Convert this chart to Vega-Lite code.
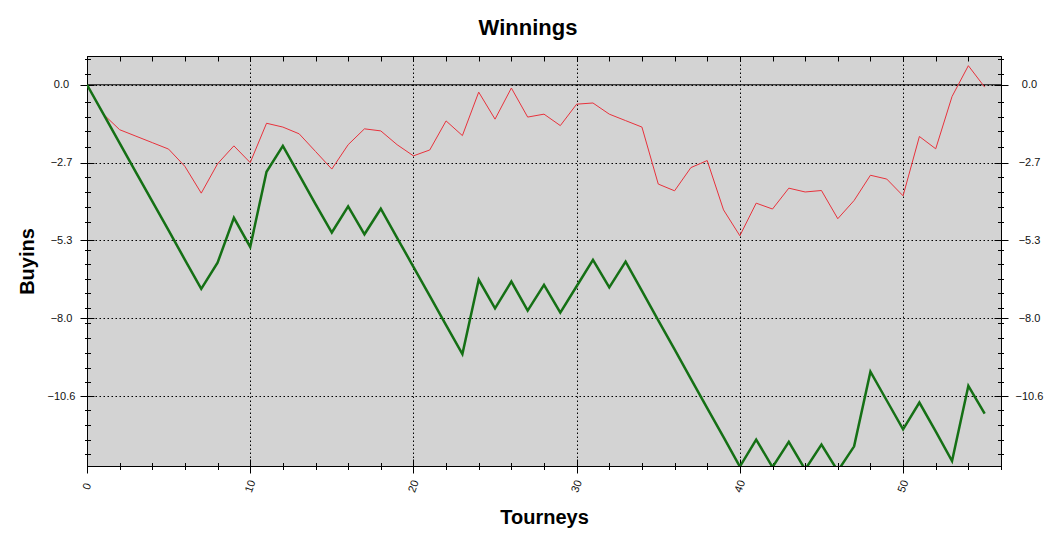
{
  "$schema": "https://vega.github.io/schema/vega-lite/v6.json",
  "description": "Winnings in buyins per tourney: red and green cumulative series.",
  "width": 914,
  "height": 410,
  "autosize": "none",
  "padding": {"left": 87, "top": 56, "right": 56, "bottom": 78},
  "background": "white",
  "title": {
    "text": "Winnings",
    "font": "Liberation Sans",
    "fontSize": 22,
    "fontWeight": "bold",
    "color": "black",
    "anchor": "middle",
    "offset": 16,
    "dx": -16
  },
  "data": {
    "values": [
      {"t": 0, "red": 0, "green": 0},
      {"t": 1, "red": -1.0, "green": -0.99},
      {"t": 2, "red": -1.53, "green": -1.99},
      {"t": 3, "red": -1.75, "green": -2.98},
      {"t": 4, "red": -1.97, "green": -3.97},
      {"t": 5, "red": -2.19, "green": -4.96},
      {"t": 6, "red": -2.78, "green": -5.96},
      {"t": 7, "red": -3.69, "green": -6.95},
      {"t": 8, "red": -2.69, "green": -6.06},
      {"t": 9, "red": -2.08, "green": -4.53},
      {"t": 10, "red": -2.65, "green": -5.52},
      {"t": 11, "red": -1.31, "green": -2.96},
      {"t": 12, "red": -1.44, "green": -2.08},
      {"t": 13, "red": -1.67, "green": -3.07},
      {"t": 14, "red": -2.27, "green": -4.06},
      {"t": 15, "red": -2.87, "green": -5.03},
      {"t": 16, "red": -2.04, "green": -4.14},
      {"t": 17, "red": -1.5, "green": -5.09},
      {"t": 18, "red": -1.57, "green": -4.22},
      {"t": 19, "red": -2.04, "green": -5.21},
      {"t": 20, "red": -2.42, "green": -6.2},
      {"t": 21, "red": -2.22, "green": -7.19},
      {"t": 22, "red": -1.23, "green": -8.18},
      {"t": 23, "red": -1.73, "green": -9.17},
      {"t": 24, "red": -0.25, "green": -6.64},
      {"t": 25, "red": -1.17, "green": -7.61},
      {"t": 26, "red": -0.11, "green": -6.7},
      {"t": 27, "red": -1.1, "green": -7.69},
      {"t": 28, "red": -1.0, "green": -6.81},
      {"t": 29, "red": -1.39, "green": -7.76},
      {"t": 30, "red": -0.66, "green": -6.86},
      {"t": 31, "red": -0.62, "green": -5.96},
      {"t": 32, "red": -1.0, "green": -6.9},
      {"t": 33, "red": -1.22, "green": -6.02},
      {"t": 34, "red": -1.44, "green": -7.02},
      {"t": 35, "red": -3.38, "green": -8.02},
      {"t": 36, "red": -3.61, "green": -9.01},
      {"t": 37, "red": -2.82, "green": -10.01},
      {"t": 38, "red": -2.58, "green": -11.01},
      {"t": 39, "red": -4.26, "green": -12.0},
      {"t": 40, "red": -5.14, "green": -13.0},
      {"t": 41, "red": -4.03, "green": -12.08},
      {"t": 42, "red": -4.23, "green": -13.02},
      {"t": 43, "red": -3.52, "green": -12.16},
      {"t": 44, "red": -3.65, "green": -13.1},
      {"t": 45, "red": -3.6, "green": -12.25},
      {"t": 46, "red": -4.56, "green": -13.15},
      {"t": 47, "red": -3.94, "green": -12.31},
      {"t": 48, "red": -3.08, "green": -9.77},
      {"t": 49, "red": -3.21, "green": -10.75},
      {"t": 50, "red": -3.78, "green": -11.73},
      {"t": 51, "red": -1.76, "green": -10.82},
      {"t": 52, "red": -2.18, "green": -11.8},
      {"t": 53, "red": -0.4, "green": -12.81},
      {"t": 54, "red": 0.65, "green": -10.25},
      {"t": 55, "red": -0.08, "green": -11.2}
    ]
  },
  "resolve": {"axis": {"x": "independent", "y": "independent"}},
  "config": {
    "view": {"fill": "#d3d3d3", "stroke": "black", "strokeWidth": 1},
    "axis": {
      "domain": false,
      "grid": false,
      "labels": false,
      "title": null,
      "tickColor": "black",
      "tickWidth": 1,
      "labelFont": "Liberation Sans",
      "labelFontSize": 11,
      "labelColor": "#111111",
      "titleFont": "Liberation Sans",
      "titleFontSize": 20,
      "titleFontWeight": "bold",
      "titleColor": "black"
    }
  },
  "layer": [
    {
      "data": {"values": [{"z": 0}]},
      "mark": {"type": "rule", "color": "black", "strokeWidth": 1},
      "encoding": {
        "y": {
          "field": "z",
          "type": "quantitative",
          "scale": {"domain": [-12.98, 0.98], "nice": false, "zero": false},
          "axis": {
            "orient": "left",
            "values": [0, -2.651, -5.3, -7.951, -10.6],
            "grid": true,
            "gridColor": "black",
            "gridDash": [1.5, 2.5],
            "gridOpacity": 1,
            "gridWidth": 1,
            "ticks": false
          }
        }
      }
    },
    {
      "mark": {"type": "line", "color": "#e8323c", "strokeWidth": 1, "clip": true},
      "encoding": {
        "x": {
          "field": "t",
          "type": "quantitative",
          "scale": {"domain": [0, 56], "nice": false},
          "axis": {
            "orient": "bottom",
            "values": [0, 10, 20, 30, 40, 50],
            "grid": true,
            "gridColor": "black",
            "gridDash": [1.5, 2.5],
            "gridOpacity": 1,
            "tickSize": 14,
            "offset": -7,
            "labels": true,
            "labelAngle": -70,
            "labelAlign": "center",
            "labelBaseline": "middle",
            "labelPadding": 13,
            "title": "Tourneys",
            "titlePadding": 14
          }
        },
        "y": {
          "field": "red",
          "type": "quantitative",
          "scale": {"domain": [-12.98, 0.98], "nice": false, "zero": false},
          "axis": {
            "orient": "left",
            "values": [0, -2.651, -5.3, -7.951, -10.6],
            "format": ".1f",
            "tickSize": 14,
            "offset": -7,
            "labels": true,
            "labelAlign": "center",
            "labelBaseline": "middle",
            "labelPadding": 19,
            "title": "Buyins",
            "titlePadding": 10
          }
        }
      }
    },
    {
      "mark": {"type": "line", "color": "#157015", "strokeWidth": 2.5, "clip": true},
      "encoding": {
        "x": {
          "field": "t",
          "type": "quantitative",
          "scale": {"domain": [0, 56], "nice": false},
          "axis": {
            "orient": "bottom",
            "values": [0, 2, 4, 6, 8, 10, 12, 14, 16, 18, 20, 22, 24, 26, 28, 30, 32, 34, 36, 38, 40, 42, 44, 46, 48, 50, 52, 54, 56],
            "tickSize": 7,
            "offset": -3.5
          }
        },
        "y": {
          "field": "green",
          "type": "quantitative",
          "scale": {"domain": [-12.98, 0.98], "nice": false, "zero": false},
          "axis": {
            "orient": "right",
            "values": [0, -2.651, -5.3, -7.951, -10.6],
            "format": ".1f",
            "tickSize": 14,
            "offset": -7,
            "labels": true,
            "labelAlign": "center",
            "labelBaseline": "middle",
            "labelPadding": 21
          }
        }
      }
    },
    {
      "mark": {"type": "line", "opacity": 0, "clip": true},
      "encoding": {
        "x": {
          "field": "t",
          "type": "quantitative",
          "scale": {"domain": [0, 56], "nice": false},
          "axis": {
            "orient": "top",
            "values": [0, 2, 4, 6, 8, 10, 12, 14, 16, 18, 20, 22, 24, 26, 28, 30, 32, 34, 36, 38, 40, 42, 44, 46, 48, 50, 52, 54, 56],
            "tickSize": 5,
            "offset": -5
          }
        },
        "y": {
          "field": "green",
          "type": "quantitative",
          "scale": {"domain": [-12.98, 0.98], "nice": false, "zero": false},
          "axis": {
            "orient": "left",
            "values": [0.88, 0.36, -0.59, -1.08, -1.57, -2.12, -3.13, -3.64, -4.15, -4.66, -5.62, -6.11, -6.6, -7.1, -7.61, -8.12, -8.63, -9.14, -9.64, -10.11, -11.08, -11.59, -12.1, -12.57],
            "tickSize": 6,
            "offset": -3.5
          }
        }
      }
    },
    {
      "mark": {"type": "line", "opacity": 0, "clip": true},
      "encoding": {
        "x": {
          "field": "t",
          "type": "quantitative",
          "scale": {"domain": [0, 56], "nice": false},
          "axis": null
        },
        "y": {
          "field": "red",
          "type": "quantitative",
          "scale": {"domain": [-12.98, 0.98], "nice": false, "zero": false},
          "axis": {
            "orient": "right",
            "values": [0.88, 0.36, -0.59, -1.08, -1.57, -2.12, -3.13, -3.64, -4.15, -4.66, -5.62, -6.11, -6.6, -7.1, -7.61, -8.12, -8.63, -9.14, -9.64, -10.11, -11.08, -11.59, -12.1, -12.57],
            "tickSize": 6,
            "offset": -3.5
          }
        }
      }
    }
  ]
}
